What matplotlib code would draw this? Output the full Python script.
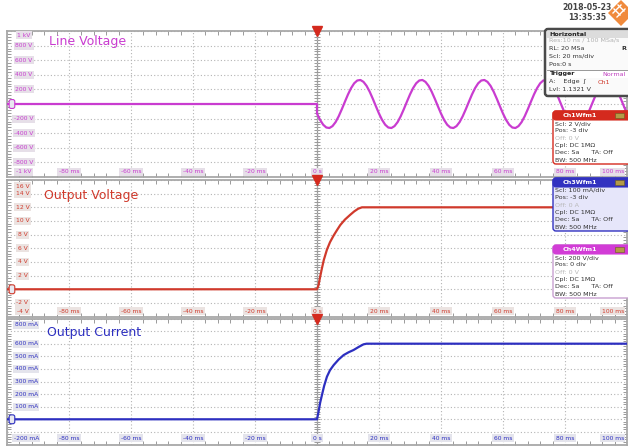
import numpy as np
import matplotlib
matplotlib.use('Agg')
import matplotlib.pyplot as plt
import matplotlib.transforms as mtransforms
from matplotlib.patches import FancyBboxPatch, Rectangle, Polygon

# ---------------- data ----------------
x_tick_ms = [-80, -60, -40, -20, 0, 20, 40, 60, 80, 100]
x_tick_text = ["-80 ms", "-60 ms", "-40 ms", "-20 ms", "0 s", "20 ms", "40 ms", "60 ms", "80 ms", "100 ms"]

# Line voltage (V): flat before trigger, 50 Hz mains after
line_t_pre = [-100, 0]
line_v_pre = [0, 0]
line_t = list(range(0, 101))  # ms
line_v = [-131, -218, -284, -322, -329, -303, -248, -168, -72, 31,
          131, 218, 284, 322, 329, 303, 248, 168, 72, -31,
          -131, -218, -284, -322, -329, -303, -248, -168, -72, 31,
          131, 218, 284, 322, 329, 303, 248, 168, 72, -31,
          -131, -218, -284, -322, -329, -303, -248, -168, -72, 31,
          131, 218, 284, 322, 329, 303, 248, 168, 72, -31,
          -131, -218, -284, -322, -329, -303, -248, -168, -72, 31,
          131, 218, 284, 322, 329, 303, 248, 168, 72, -31,
          -131, -218, -284, -322, -329, -303, -248, -168, -72, 31,
          131, 218, 284, 322, 329, 303, 248, 168, 72, -31,
          -131]

# Output voltage (V)
vout_t = [-100, 0, 0.5, 1, 1.6, 2.2, 3.2, 4.2, 5.4, 6.5, 7.5, 9, 10.7, 12, 13.3, 14.5, 100]
vout_v = [0, 0, 0.6, 1.8, 3.1, 4.3, 5.8, 6.9, 7.9, 8.7, 9.4, 10.2, 10.9, 11.4, 11.8, 12.0, 12.0]

# Output current (mA)
iout_t = [-100, 0, 0.5, 1, 1.6, 2.3, 3.2, 4.2, 5.4, 7, 8.6, 10.2, 11.8, 13.5, 15, 16, 100]
iout_v = [0, 0, 60, 130, 193, 265, 338, 390, 431, 475, 510, 532, 550, 575, 595, 600, 600]

p1_ytick_vals = [940, 800, 600, 400, 200, -200, -400, -600, -800, -930]
p1_ytick_text = ["1 kV", "800 V", "600 V", "400 V", "200 V", "-200 V", "-400 V", "-600 V", "-800 V", "-1 kV"]
p2_ytick_vals = [15.1, 14, 12, 10, 8, 6, 4, 2, -2, -3.2]
p2_ytick_text = ["16 V", "14 V", "12 V", "10 V", "8 V", "6 V", "4 V", "2 V", "-2 V", "-4 V"]
p3_ytick_vals = [750, 600, 500, 400, 300, 200, 100, -150]
p3_ytick_text = ["800 mA", "600 mA", "500 mA", "400 mA", "300 mA", "200 mA", "100 mA", "-200 mA"]

MAG = '#c93cd0'
RED = '#d03a2c'
BLU = '#2d2fc0'
GRID = '#b4b4b4'

W, H = 628, 446
fig = plt.figure(figsize=(W / 100, H / 100), dpi=100)
fig.patch.set_facecolor('white')


def px_axes(top, bottom, left=7, right=627):
    return fig.add_axes([left / W, 1 - bottom / H, (right - left) / W, (bottom - top) / H])


def setup(ax, ylim, ydiv, color, ylabbg):
    ax.set_xlim(-100, 100)
    ax.set_ylim(*ylim)
    ax.set_xticks(np.arange(-100, 101, 20))
    ax.set_xticks(np.arange(-100, 101, 4), minor=True)
    ax.set_yticks(np.arange(ylim[0], ylim[1] + 1e-9, ydiv))
    ax.set_yticks(np.arange(ylim[0], ylim[1] + 1e-9, ydiv / 5), minor=True)
    ax.grid(which='major', color=GRID, linestyle=(0, (1, 2)), lw=0.8)
    ax.tick_params(which='both', direction='in', top=True, right=True,
                   labelbottom=False, labelleft=False, color='#9a9a9a')
    ax.tick_params(which='major', length=0)
    ax.tick_params(which='minor', length=3, width=0.7)
    for s in ax.spines.values():
        s.set_color('#a8a8a8')
        s.set_linewidth(1.3)
    # centre vertical line with small ticks
    ax.axvline(0, color='#9a9a9a', lw=0.9, zorder=1)
    ym = np.arange(ylim[0], ylim[1] + 1e-9, ydiv / 5)
    ax.plot(np.zeros_like(ym), ym, ls='none', marker='_', ms=4, mew=0.7, color='#9a9a9a', zorder=1)
    # trigger marker
    ax.plot([0], [1.0], transform=mtransforms.blended_transform_factory(ax.transData, ax.transAxes),
            marker='v', ms=7.5, color='#d42a1e', clip_on=False, zorder=6)


def ylabels(ax, vals, texts, color, bg, xc=0.027):
    tr = mtransforms.blended_transform_factory(ax.transAxes, ax.transData)
    for v, t in zip(vals, texts):
        ax.text(xc, v, t, transform=tr, ha='center', va='center', fontsize=4.3, color=color,
                bbox=dict(boxstyle='square,pad=0.25', fc=bg, ec='none'), zorder=7)


def xlabels(ax, yrow, color, bg):
    for v, t in zip(x_tick_ms, x_tick_text):
        ha = 'center'
        xv = v
        if v == 100:
            ha = 'right'
            xv = 99
        ax.text(xv, yrow, t, ha=ha, va='center', fontsize=4.3, color=color,
                bbox=dict(boxstyle='square,pad=0.25', fc=bg, ec='none'), zorder=7)


def ground(ax, color):
    tr = mtransforms.blended_transform_factory(ax.transAxes, ax.transData)
    ax.text(0.008, 0, ' ', transform=tr, ha='center', va='center', fontsize=4,
            bbox=dict(boxstyle='round,pad=0.35', fc='#e8e8f0', ec=color, lw=0.8), zorder=8)


# ---------------- panel 1: line voltage ----------------
ax1 = px_axes(31, 177)
setup(ax1, (-1000, 1000), 200, MAG, '#e6dfe8')
ax1.plot(line_t_pre + line_t, line_v_pre + line_v, color=MAG, lw=1.6, zorder=5)
ylabels(ax1, p1_ytick_vals, p1_ytick_text, MAG, '#e6dfe8')
xlabels(ax1, -930, MAG, '#e6dfe8')
ground(ax1, MAG)
ax1.text(-86.3, 860, 'Line Voltage', fontsize=9, color=MAG, va='center', ha='left', zorder=7)

# ---------------- panel 2: output voltage ----------------
ax2 = px_axes(180, 316.6)
setup(ax2, (-4, 16), 2, RED, '#ebe3e1')
ax2.plot(vout_t, vout_v, color=RED, lw=1.6, zorder=5)
ylabels(ax2, p2_ytick_vals, p2_ytick_text, RED, '#ebe3e1', xc=0.025)
xlabels(ax2, -3.2, RED, '#ebe3e1')
ground(ax2, RED)
ax2.text(-88.0, 13.8, 'Output Voltage', fontsize=9, color=RED, va='center', ha='left', zorder=7)

# ---------------- panel 3: output current ----------------
ax3 = px_axes(318.5, 444.5)
setup(ax3, (-200, 800), 100, BLU, '#e4e4ec')
ax3.plot(iout_t, iout_v, color=BLU, lw=1.6, zorder=5)
ylabels(ax3, p3_ytick_vals, p3_ytick_text, BLU, '#e4e4ec', xc=0.031)
xlabels(ax3, -150, BLU, '#e4e4ec')
ground(ax3, BLU)
ax3.text(-87.0, 690, 'Output Current', fontsize=9, color=BLU, va='center', ha='left', zorder=7)

# ---------------- overlay (scope info boxes) ----------------
ov = fig.add_axes([0, 0, 1, 1], zorder=20)
ov.set_xlim(0, W)
ov.set_ylim(H, 0)
ov.axis('off')
ov.patch.set_alpha(0)

FS = 4.6
TXT = '#333333'


def rbox(x0, y0, x1, y1, fc, ec, lw, r=3):
    ov.add_patch(FancyBboxPatch((x0, y0), x1 - x0, y1 - y0,
                                boxstyle='round,pad=0,rounding_size=%g' % r,
                                fc=fc, ec=ec, lw=lw))


# date & logo
ov.text(587, 7, '2018-05-23', fontsize=5.6, fontweight='bold', color='#444444', ha='center', va='center')
ov.text(587, 17, '13:35:35', fontsize=5.6, fontweight='bold', color='#444444', ha='center', va='center')
ov.add_patch(Polygon([(608, 13), (621, 0), (634, 13), (621, 26)], closed=True, fc='#f08a3c', ec='none'))
ov.plot([613, 621], [13, 5], color='white', lw=1.0)
ov.plot([617, 625], [17, 9], color='white', lw=1.0)
ov.plot([614, 620], [9, 15], color='white', lw=1.0)
ov.plot([618, 624], [5, 11], color='white', lw=1.0)

# Horizontal box
rbox(545, 29, 645, 96, '#fafafa', '#4a4a4a', 1.8)
ov.add_patch(Rectangle((547, 30.5), 100, 7, fc='#dcdcdc', ec='none'))
ov.text(549, 34, 'Horizontal', fontsize=FS, fontweight='bold', color='#222222', va='center')
ov.text(549, 40.5, 'Res:10 ns / 100 MSa/s', fontsize=FS, color='#b0b0b0', va='center')
ov.text(549, 48, 'RL: 20 MSa', fontsize=FS, color=TXT, va='center')
ov.text(621, 48, 'R', fontsize=FS, fontweight='bold', color=TXT, va='center')
ov.text(549, 56.5, 'Scl: 20 ms/div', fontsize=FS, color=TXT, va='center')
ov.text(549, 65, 'Pos:0 s', fontsize=FS, color=TXT, va='center')
ov.add_patch(Rectangle((547, 70), 100, 8, fc='white', ec='none'))
ov.plot([547, 640], [70, 70], color='#888888', lw=0.6)
ov.text(550, 74, 'Trigger', fontsize=FS, fontweight='bold', color='#222222', va='center')
ov.text(626, 74, 'Normal', fontsize=FS, color='#c040c0', va='center', ha='right')
ov.text(549, 82, 'A:    Edge  \u0283', fontsize=FS, color=TXT, va='center')
ov.text(598, 82, 'Ch1', fontsize=FS, color='#d03a2c', va='center')
ov.text(549, 89.5, 'Lvl: 1.1321 V', fontsize=FS, color=TXT, va='center')


def chbox(top, bottom, name, head, edge, face, lines, offcol='#b8b8b8'):
    rbox(553, top, 645, bottom, face, edge, 1.0)
    ov.add_patch(FancyBboxPatch((553, top), 92, 9, boxstyle='round,pad=0,rounding_size=3',
                                fc=head, ec=head, lw=0.8))
    ov.text(580, top + 4.6, name, fontsize=FS, fontweight='bold', color='white', ha='center', va='center')
    ov.add_patch(Rectangle((615, top + 2), 9, 5, fc='#b39a46', ec='#6a5a20', lw=0.4))
    y = top + 12.5
    for i, ln in enumerate(lines):
        c = offcol if ln.startswith('Off') else TXT
        ov.text(555, y, ln, fontsize=FS, color=c, va='center')
        y += 7.3


chbox(111, 164, 'Ch1Wfm1', '#d42a1e', '#d42a1e', 'white',
      ['Scl: 2 V/div', 'Pos: -3 div', 'Off: 0 V', 'Cpl: DC 1M\u03a9', 'Dec: Sa      TA: Off', 'BW: 500 MHz'])
chbox(178, 231, 'Ch3Wfm1', '#3232c0', '#3232c0', '#e6e6fa',
      ['Scl: 100 mA/div', 'Pos: -3 div', 'Off: 0 A', 'Cpl: DC 1M\u03a9', 'Dec: Sa      TA: Off', 'BW: 500 MHz'])
chbox(245, 298, 'Ch4Wfm1', '#d23cd6', '#c8a0d0', 'white',
      ['Scl: 200 V/div', 'Pos: 0 div', 'Off: 0 V', 'Cpl: DC 1M\u03a9', 'Dec: Sa      TA: Off', 'BW: 500 MHz'])

fig.savefig('out.png', dpi=100, facecolor='white')
